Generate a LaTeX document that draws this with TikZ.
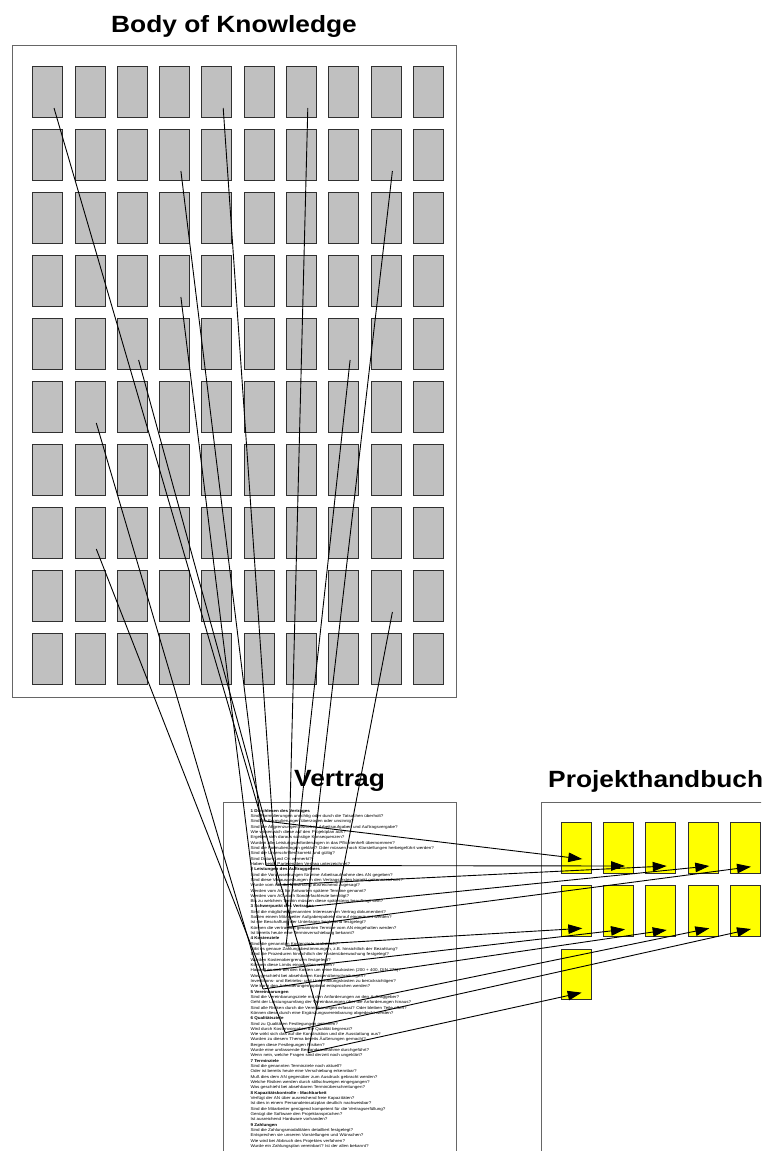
\documentclass[tikz,border=0pt]{standalone}
\usepackage{fontspec}
\setmainfont{Liberation Sans}
\usetikzlibrary{arrows.meta}
\definecolor{boxgray}{HTML}{C0C0C0}
\definecolor{framegray}{HTML}{666666}
\definecolor{edgegray}{HTML}{303030}
\definecolor{padyellow}{HTML}{FFFF00}
\tikzset{
  container/.style={draw=framegray, line width=1pt, inner sep=0pt, anchor=north west},
  kbox/.style={draw=edgegray, fill=boxgray, line width=1pt, minimum width=30pt, minimum height=51pt, inner sep=0pt},
  pbox/.style={draw=edgegray, fill=padyellow, line width=1pt, minimum width=30pt, minimum height=50.7pt, inner sep=0pt},
  heading/.style={font=\bfseries\fontsize{23.5pt}{28pt}\selectfont, inner sep=0pt, anchor=base},
  link/.style={draw=black, line width=0.9pt},
  flow/.style={draw=black, line width=0.9pt, -{Triangle[length=14pt,width=9.5pt]}},
}
\begin{document}
\begin{tikzpicture}[x=1pt,y=-1pt]
\useasboundingbox (0,0) rectangle (761,1151);
\fill[white] (0,0) rectangle (761,1151);
\clip (0,0) rectangle (761,1151);

% headings
\node[heading] (tbok) at (234,32.3) {\scalebox{1.12}[1]{Body of Knowledge}};
\node[heading] (tvertrag) at (339.5,786.7) {\scalebox{1.12}[1]{Vertrag}};
\node[heading, anchor=base west] (tph) at (548,787.5) {\scalebox{1.12}[1]{Projekthandbuch}};

% containers
\node[container, minimum width=444pt, minimum height=652pt] (bok) at (12,45) {};
\node[container, minimum width=232.7pt, minimum height=420pt] (vertrag) at (223.3,801.7) {};
\node[container, minimum width=232.7pt, minimum height=420pt] (handbuch) at (540.7,801.7) {};

% body of knowledge grid
\foreach \r in {1,...,10}
  \foreach \c in {1,...,10}
    \node[kbox] (b-\r-\c) at ({47.7+(\c-1)*42.3},{91.5+(\r-1)*63}) {};

% project handbook boxes
\foreach \c in {1,...,5} {
  \node[pbox] (p-1-\c) at ({576.3+(\c-1)*42.3},848) {};
  \node[pbox] (p-2-\c) at ({576.3+(\c-1)*42.3},911.3) {};
}
\node[pbox] (p-3-1) at (576.3,974.6) {};

% contract text
\node[anchor=base west, inner sep=0pt] (vtext) at (250.3,812.2) {\scalebox{1.12}[1]{\parbox[t]{200pt}{\fontsize{4.05pt}{5.32pt}\selectfont\raggedright
\textbf{1 Durchlesen des Vertrages}\\
Sind Formulierungen unrichtig oder durch die Tatsachen überholt?\\
Sind die Formulierungen überzogen oder unsinnig?\\
Sind die Abgrenzungen zwischen Arbeitsaufgaben und Auftragsvergabe?\\
Wie wirken sich diese auf den Projektplan aus?\\
Ergeben sich daraus sonstige Konsequenzen?\\
Wurden alle Leistungsanforderungen in das Pflichtenheft übernommen?\\
Sind die Formulierungen geklärt? Oder müssen noch Klarstellungen herbeigeführt werden?\\
Sind die Unterschriften korrekt und gültig?\\
Sind Datum und Ort vermerkt?\\
Haben beide Parteien den Vertrag unterzeichnet?\\
\textbf{2 Leistungen des Auftraggebers}\\
Sind die Voraussetzungen für eine Arbeitsaufnahme des AN gegeben?\\
Sind diese Voraussetzungen in den Vertragstexten korrekt gekennzeichnet?\\
Wurde vom AG die Mitwirkung ausreichend zugesagt?\\
Werden vom AG für Antworten spätere Termine genannt?\\
Werden vom AG auch Sonderfachleute benötigt?\\
Bis zu welchem Termin müssen diese spätestens beauftragt sein?\\
\textbf{3 Schwerpunkt des Vertrages}\\
Sind die möglichen genannten Interessen im Vertrag dokumentiert?\\
Sollten einem Mitarbeiter Aufgabenpakete darauf eingeräumt werden?\\
Ist die Beschaffung der Unterlagen begleitend festgelegt?\\
Können die vertraglich genannten Termine vom AN eingehalten werden?\\
Ist bereits heute eine Terminverschiebung bekannt?\\
\textbf{4 Kostenziele}\\
Sind die genannten Kostenziele realistisch?\\
Gibt es genaue Zahlungsbestimmungen, z.B. hinsichtlich der Bezahlung?\\
Sind die Prozeduren hinsichtlich der Kostenüberwachung festgelegt?\\
Wurden Kostenobergrenzen festgelegt?\\
Können diese Limits eingehalten werden?\\
Handelt es sich bei den Kosten um reine Baukosten (200 + 400, DIN 276)?\\
Was geschieht bei absehbaren Kostenüberschreitungen?\\
Investitions- und Betriebs- und Unterhaltungskosten zu berücksichtigen?\\
Wie kann den Anforderungen optimal entsprochen werden?\\
\textbf{5 Vereinbarungen}\\
Sind die Vereinbarungsziele mit den Anforderungen an den Auftraggeber?\\
Geht der Leistungsumfang der Vereinbarungen über die Anforderungen hinaus?\\
Sind alle Risiken durch die Vereinbarungen erfasst? Oder bleiben Teile offen?\\
Können diese durch eine Ergänzungsvereinbarung abgedeckt werden?\\
\textbf{6 Qualitätsziele}\\
Sind zu Qualitäten Festlegungen getroffen?\\
Wird durch Kostenvorgaben die Qualität begrenzt?\\
Wie wirkt sich das auf die Konstruktion und die Ausstattung aus?\\
Wurden zu diesem Thema bereits Äußerungen gemacht?\\
Bergen diese Festlegungen Risiken?\\
Wurde eine umfassende Bestandsaufnahme durchgeführt?\\
Wenn nein, welche Fragen sind derzeit noch ungeklärt?\\
\textbf{7 Terminziele}\\
Sind die genannten Terminziele noch aktuell?\\
Oder ist bereits heute eine Verschiebung erkennbar?\\
Muß dies dem AN gegenüber zum Ausdruck gebracht werden?\\
Welche Risiken werden durch stillschweigen eingegangen?\\
Was geschieht bei absehbaren Terminüberschreitungen?\\
\textbf{8 Kapazitätskontrolle - Machbarkeit}\\
Verfügt der AN über ausreichend freie Kapazitäten?\\
Ist dies in einem Personaleinsatzplan deutlich nachweisbar?\\
Sind die Mitarbeiter genügend kompetent für die Vertragserfüllung?\\
Genügt die Software den Projektansprüchen?\\
Ist ausreichend Hardware vorhanden?\\
\textbf{9 Zahlungen}\\
Sind die Zahlungsmodalitäten detailliert festgelegt?\\
Entsprechen sie unseren Vorstellungen und Wünschen?\\
Wie wird bei Abbruch des Projektes verfahren?\\
Wurde ein Zahlungsplan vereinbart? Ist der allen bekannt?}}};

% junction points in the contract text
\coordinate (j1) at (265,821);
\coordinate (j2) at (266,865.5);
\coordinate (j3) at (277,885);
\coordinate (j4) at (307,906.7);
\coordinate (j5) at (287,927.5);
\coordinate (j6) at (286,946);
\coordinate (j7) at (264,971);
\coordinate (j8) at (263,989);
\coordinate (j9) at (317,1009);
\coordinate (j10) at (285.3,1032.7);
\coordinate (j11) at (308,1052.7);

% knowledge items -> contract text
\foreach \b/\j in {1-1/j9, 2-4/j2, 5-3/j1, 1-5/j3, 1-7/j5, 5-8/j6, 4-4/j7, 6-2/j8, 2-9/j4, 9-9/j11, 8-2/j10}
  \draw[link] ([shift={(6.3,16.5)}]b-\b.center) -- (\j);

% contract text -> project handbook
\foreach \j/\p/\dx/\dy in {j1/1-1/6/11, j2/1-2/6.4/18, j3/1-3/5.8/18, j4/1-4/6.1/18, j5/1-5/5.5/18.7, j6/2-1/6/17, j7/2-2/6.4/18, j8/2-3/5.8/18.7, j9/2-4/6.1/17, j10/2-5/5.5/17.7, j11/3-1/5.4/18}
  \draw[flow] (\j) -- ([shift={(\dx,\dy)}]p-\p.center);
\end{tikzpicture}
\end{document}
